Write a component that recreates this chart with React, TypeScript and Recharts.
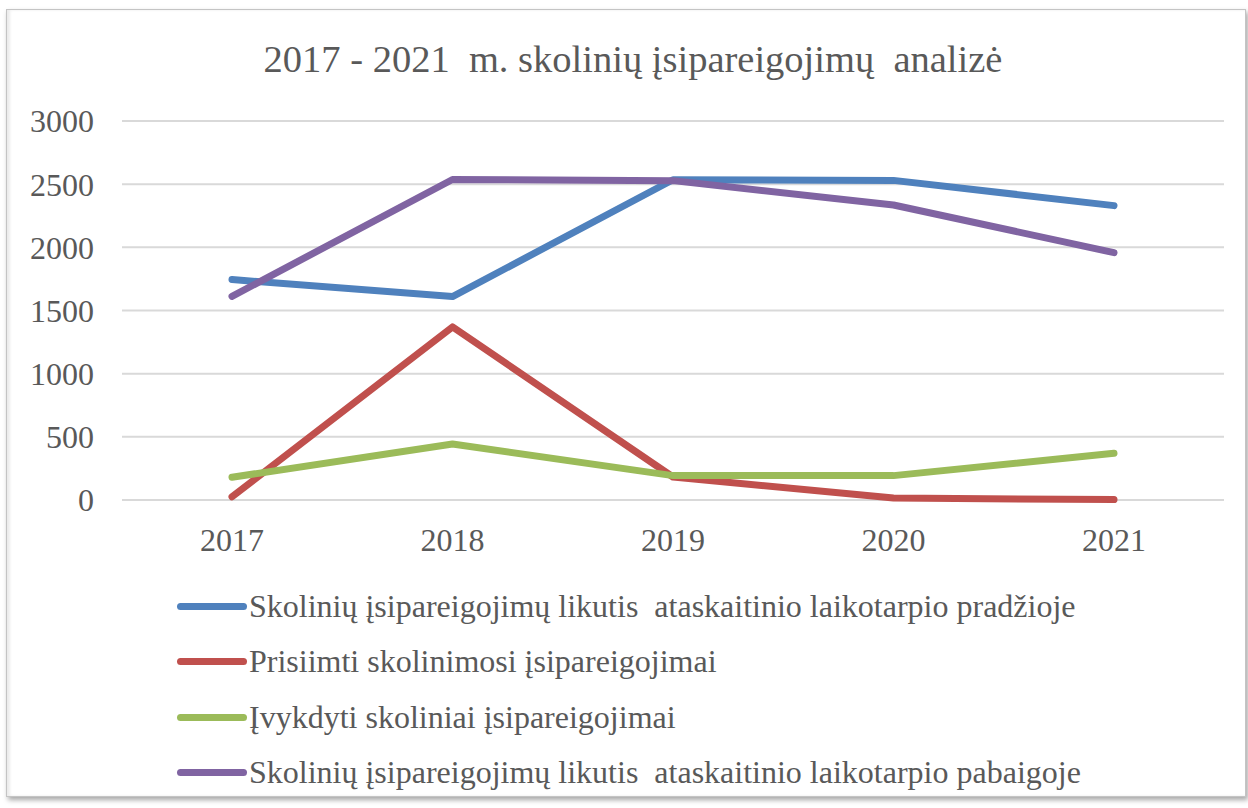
import { LineChart, Line, XAxis, YAxis, CartesianGrid } from 'recharts';

const years = ['2017', '2018', '2019', '2020', '2021'];
const startBalance = [1745, 1610, 2535, 2530, 2330];
const borrowed = [25, 1370, 182, 15, 3];
const repaid = [180, 443, 193, 193, 370];
const endBalance = [1612, 2537, 2528, 2335, 1958];
const yTicks = [0, 500, 1000, 1500, 2000, 2500, 3000];

const title = '2017 - 2021  m. skolinių įsipareigojimų  analizė';

const series = [
  { key: 'start', name: 'Skolinių įsipareigojimų likutis  ataskaitinio laikotarpio pradžioje', color: '#4f81bd', values: startBalance },
  { key: 'borrowed', name: 'Prisiimti skolinimosi įsipareigojimai', color: '#c0504d', values: borrowed },
  { key: 'repaid', name: 'Įvykdyti skoliniai įsipareigojimai', color: '#9bbb59', values: repaid },
  { key: 'end', name: 'Skolinių įsipareigojimų likutis  ataskaitinio laikotarpio pabaigoje', color: '#8064a2', values: endBalance },
];

const data = years.map((year, i) => {
  const row: Record<string, string | number> = { year };
  series.forEach((s) => {
    row[s.key] = s.values[i];
  });
  return row;
});

const font = '"Liberation Serif", "Times New Roman", serif';
const textColor = '#595959';

export default function App() {
  return (
    <div
      style={{
        position: 'absolute',
        left: 6,
        top: 9,
        width: 1238,
        height: 786,
        border: '1px solid #c4c4c4',
        boxShadow: '2px 3px 5px rgba(0,0,0,0.35), inset 3px 0 3px rgba(0,0,0,0.08)',
        background: '#fff',
        fontFamily: font,
      }}
    >
      <div
        style={{
          position: 'absolute',
          left: 126,
          top: 30,
          width: 1000,
          textAlign: 'center',
          fontSize: 38.5,
          lineHeight: 1,
          color: textColor,
          whiteSpace: 'pre',
        }}
      >
        {title}
      </div>
      <LineChart width={1238} height={560} data={data} margin={{ top: 111, right: 21, left: 0, bottom: 0 }}>
        <CartesianGrid vertical={false} stroke="#d9d9d9" strokeWidth={2} />
        <XAxis
          dataKey="year"
          axisLine={false}
          tickLine={false}
          tickSize={0}
          tickMargin={28}
          height={70}
          padding={{ left: 110, right: 110 }}
          tick={{ fontSize: 32, fill: textColor, fontFamily: font }}
        />
        <YAxis
          domain={[0, 3000]}
          ticks={yTicks}
          axisLine={false}
          tickLine={false}
          tickSize={0}
          tickMargin={28}
          width={115}
          tick={{ fontSize: 32, fill: textColor, fontFamily: font }}
        />
        {series.map((s) => (
          <Line
            key={s.key}
            type="linear"
            dataKey={s.key}
            name={s.name}
            stroke={s.color}
            strokeWidth={7}
            strokeLinecap="round"
            strokeLinejoin="round"
            dot={false}
            activeDot={false}
            isAnimationActive={false}
          />
        ))}
      </LineChart>
      {series.map((s, i) => (
        <div
          key={s.key}
          style={{
            position: 'absolute',
            left: 170,
            top: 596 + i * 55.5 - 18,
            height: 36,
            display: 'flex',
            alignItems: 'center',
            whiteSpace: 'pre',
            fontSize: 32,
            color: textColor,
          }}
        >
          <span
            style={{
              display: 'inline-block',
              width: 70,
              height: 7,
              borderRadius: 4,
              background: s.color,
              marginRight: 2,
            }}
          />
          <span>{s.name}</span>
        </div>
      ))}
    </div>
  );
}
